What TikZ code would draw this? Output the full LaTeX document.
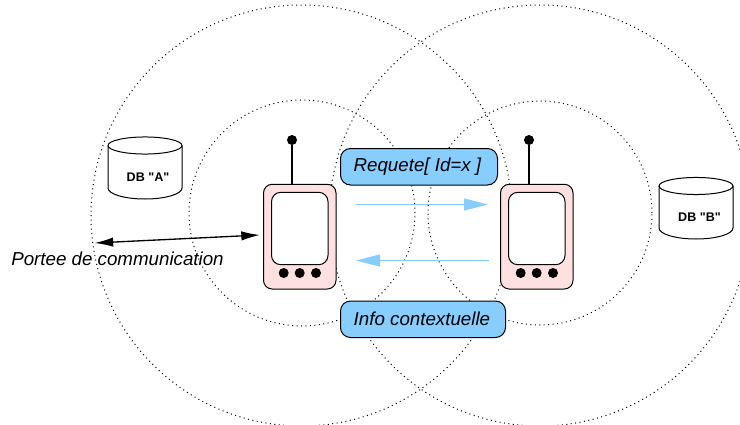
\documentclass[tikz,border=0pt]{standalone}
\usepackage{fontspec}
\setmainfont{Liberation Sans}
\newfontfamily\plainsans{Liberation Sans}
\usetikzlibrary{arrows.meta}
\definecolor{boxblue}{HTML}{87CEFF}
\definecolor{devpink}{HTML}{FFE0E0}
\tikzset{
  x=0.75pt,y=-0.75pt,
  px/.style={line width=0.75pt},
  zone/.style={draw=black,line width=0.75pt,dash pattern=on 0.75pt off 2.6pt},
  msgbox/.style={draw=black,px,fill=boxblue,rounded corners=7.5pt,inner sep=0pt,anchor=north west},
  msgtext/.style={font=\fontsize{14.05pt}{16pt}\selectfont\itshape},
  devbody/.style={draw=black,px,fill=devpink,rounded corners=6.5pt},
  devscreen/.style={draw=black,px,fill=white,rounded corners=7pt},
  devdot/.style={circle,fill=black,inner sep=0pt,minimum size=7.5pt},
  dblabel/.style={font=\plainsans\fontsize{9.4pt}{11pt}\selectfont\bfseries},
  flow/.style={draw=boxblue,px,-{Triangle[length=18pt,width=9pt,fill=boxblue]}},
  reach/.style={draw=black,line width=1pt,{Latex[length=14pt,width=7pt]}-{Latex[length=14pt,width=7pt]}}
}
\newcommand{\device}[2]{%
  \begin{scope}[shift={(#1,0)}]
    \node[devdot] (#2ball) at (292,140) {};
    \draw[devbody] (263.5,184.3) rectangle (336,289);
    \coordinate (#2top) at (292,184.3);
    \draw[black,line width=1pt] (#2ball) -- (#2top);
    \draw[devscreen] (271.5,192.3) rectangle (328,264.7);
    \node[devdot] (#2a) at (283.7,273) {};
    \node[devdot] (#2b) at (299.7,273) {};
    \node[devdot] (#2c) at (316,273) {};
  \end{scope}}
\newcommand{\dbdrum}[4]{% x-left, x-right, y-top-centre, y-bottom-centre
  \draw[black,px,fill=white] (#1,#3) arc[start angle=180,end angle=0,x radius=27.75pt,y radius=6.4pt]
    -- (#2,#4) arc[start angle=0,end angle=-180,x radius=27.75pt,y radius=8.25pt] -- cycle;
  \draw[black,px] (#1,#3) arc[start angle=180,end angle=360,x radius=27.75pt,y radius=6.4pt];
}
\begin{document}
\begin{tikzpicture}
\useasboundingbox (0,0) rectangle (740,425);
\draw[zone] (301.5,215.5) circle[radius=210.5*0.75pt];
\draw[zone] (540,215.5) circle[radius=210.5*0.75pt];
\draw[zone] (302,213) circle[radius=113*0.75pt];
\draw[zone] (540,213) circle[radius=112*0.75pt];

\dbdrum{108}{182}{145.5}{188}
\node[dblabel] (dba) at (148,177.5) {DB "A"};
\dbdrum{659}{733}{186}{228}
\node[dblabel] (dbb) at (699.5,217) {DB "B"};

\device{0}{left}
\device{237}{right}

\node[msgbox,minimum width=157*0.75pt,minimum height=36.5*0.75pt] (req) at (340,148) {};
\node[msgtext] at ([xshift=-1.2pt]req.center) {Requete[ Id=x ]};
\node[msgbox,minimum width=165*0.75pt,minimum height=36.5*0.75pt] (info) at (340,300.5) {};
\node[msgtext] at ([xshift=-0.8pt]info.center) {Info contextuelle};

\coordinate (fa) at (356,204.5);
\coordinate (fb) at (488,204.5);
\coordinate (ga) at (489,260.5);
\coordinate (gb) at (356,260.5);
\draw[flow] (fa) -- (fb);
\draw[flow] (ga) -- (gb);

\coordinate (ra) at (94.5,243);
\coordinate (rb) at (260,235);
\draw[reach] (ra) -- (rb);
\node[font=\fontsize{14.05pt}{16pt}\selectfont\itshape,anchor=base west,inner sep=0pt] (portee) at (11,265) {Portee de communication};
\end{tikzpicture}
\end{document}
